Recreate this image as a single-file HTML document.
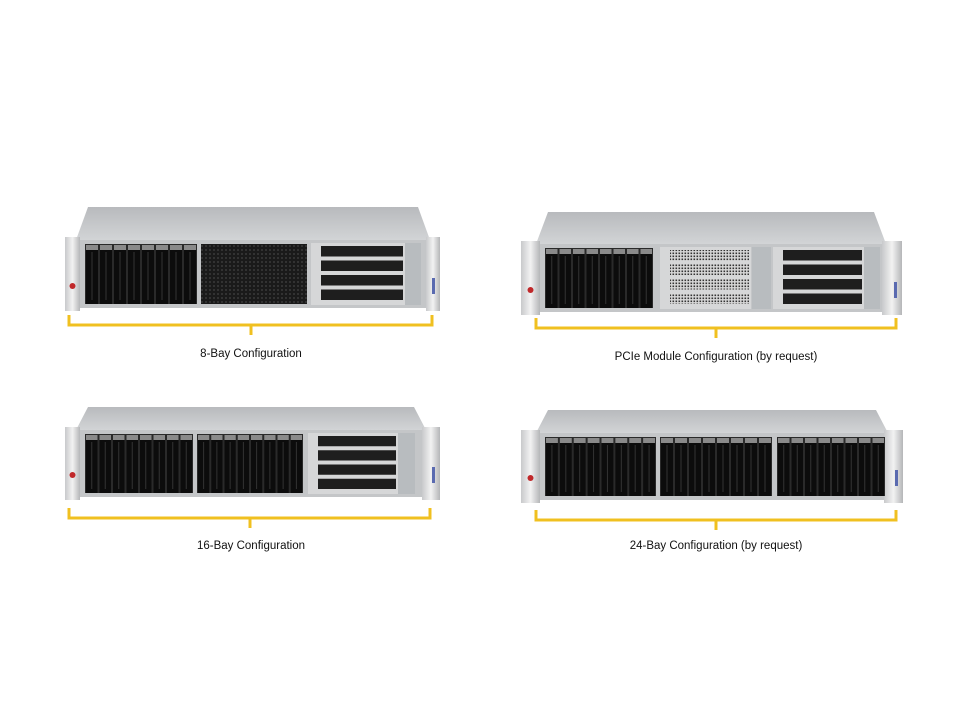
<!DOCTYPE html>
<html><head><meta charset="utf-8"><style>
html,body{margin:0;padding:0;background:#fff;}
svg{display:block;}
text{font-family:"Liberation Sans",sans-serif;font-size:11.5px;fill:#111;}
</style></head><body>
<svg id="s" width="960" height="720" xmlns="http://www.w3.org/2000/svg">
<defs>
<linearGradient id="top" x1="0" y1="0" x2="0" y2="1"><stop offset="0" stop-color="#b8babd"/><stop offset="1" stop-color="#d2d4d6"/></linearGradient>
<linearGradient id="ear" x1="0" y1="0" x2="1" y2="0"><stop offset="0" stop-color="#c8c9cb"/><stop offset=".5" stop-color="#f2f2f2"/><stop offset="1" stop-color="#b5b6b8"/></linearGradient>
<pattern id="mesh" width="4" height="4" patternUnits="userSpaceOnUse"><rect width="4" height="4" fill="#1a1a1a"/><circle cx="2" cy="2" r="1" fill="#3a3a3a"/></pattern>
<pattern id="perf" width="3" height="3" patternUnits="userSpaceOnUse"><rect width="3" height="3" fill="#d8d8d8"/><rect x="0.5" y="0.5" width="1.6" height="1.6" fill="#333"/></pattern>
</defs>
<g id="g"></g>
<text x="251" y="357" text-anchor="middle">8-Bay Configuration</text>
<text x="716" y="360" text-anchor="middle">PCIe Module Configuration (by request)</text>
<text x="251" y="549" text-anchor="middle">16-Bay Configuration</text>
<text x="716" y="549" text-anchor="middle">24-Bay Configuration (by request)</text>
</svg>
<script>
var out='';
function R(x,y,w,h,f,extra){out+='<rect x="'+x+'" y="'+y+'" width="'+w+'" height="'+h+'" fill="'+f+'" '+(extra||'')+'/>';}
function server(s){
 out+='<polygon points="'+(s.fl+10)+','+s.top+' '+(s.fr-10)+','+s.top+' '+(s.fr+2)+','+s.ft+' '+(s.fl-2)+','+s.ft+'" fill="url(#top)"/>';
 R(s.fl,s.ft,s.fr-s.fl,s.fb-s.ft,'#c4c6c8');
 R(s.el,s.ft-3,s.fl-s.el+2,s.fb-s.ft+6,'url(#ear)');
 R(s.fr-2,s.ft-3,s.er-s.fr+2,s.fb-s.ft+6,'url(#ear)');
 out+='<circle cx="'+((s.el+s.fl)/2+1)+'" cy="'+(s.fb-22)+'" r="3" fill="#c0282a"/>';
 R(s.er-8,s.fb-30,3,16,'#5a6ab0');
 s.sec.forEach(function(c){
  if(c.t=='d'){
   R(c.a,s.ft+4,c.b-c.a,s.fb-s.ft-8,'#2a2a2a');
   var w=(c.b-c.a)/c.n;
   for(var i=0;i<c.n;i++){var x=c.a+i*w;
    R(x+1,s.ft+5,w-2,5,'#8a8a8a');
    R(x+1,s.ft+10,w-2,s.fb-s.ft-14,'#0c0c0c');
    R(x+w/2-0.5,s.ft+12,1,s.fb-s.ft-20,'#333');}
  }else if(c.t=='m'){R(c.a,s.ft+4,c.b-c.a,s.fb-s.ft-8,'url(#mesh)');}
  else if(c.t=='p'){
   R(c.a,s.ft+3,c.b-c.a,s.fb-s.ft-6,'#d6d7d8');
   var h=(s.fb-s.ft-10)/4;
   for(var i=0;i<4;i++){R(c.a+10,s.ft+6+i*h,c.b-c.a-12,h-4,c.f||'#1e1e1e');}
  }else if(c.t=='pl'){R(c.a,s.ft+3,c.b-c.a,s.fb-s.ft-6,'#b8bcbf');}
 });
 var y=s.by,c=s.bc;
 out+='<path d="M'+s.bl+' '+(y-10)+' V'+y+' H'+s.br+' V'+(y-10)+' M'+c+' '+y+' V'+(y+10)+'" fill="none" stroke="#f0c020" stroke-width="3"/>';
}
server({el:65,er:440,fl:78,fr:428,top:207,ft:240,fb:308,by:325,bl:69,br:432,bc:251,
 sec:[{t:'d',a:85,b:197,n:8},{t:'m',a:201,b:307},{t:'p',a:311,b:405},{t:'pl',a:405,b:421}]});
server({el:521,er:902,fl:538,fr:884,top:212,ft:244,fb:312,by:328,bl:536,br:896,bc:716,
 sec:[{t:'d',a:545,b:653,n:8},{t:'p',a:660,b:751,f:'url(#perf)'},{t:'pl',a:752,b:771},{t:'p',a:773,b:864},{t:'pl',a:864,b:880}]});
server({el:65,er:440,fl:78,fr:424,top:407,ft:430,fb:497,by:518,bl:69,br:430,bc:250,
 sec:[{t:'d',a:85,b:193,n:8},{t:'d',a:197,b:303,n:8},{t:'p',a:308,b:398},{t:'pl',a:398,b:415}]});
server({el:521,er:903,fl:538,fr:886,top:410,ft:433,fb:500,by:520,bl:536,br:896,bc:716,
 sec:[{t:'d',a:545,b:656,n:8},{t:'d',a:660,b:772,n:8},{t:'d',a:777,b:885,n:8}]});
document.getElementById('g').innerHTML=out;
</script>
</body></html>
